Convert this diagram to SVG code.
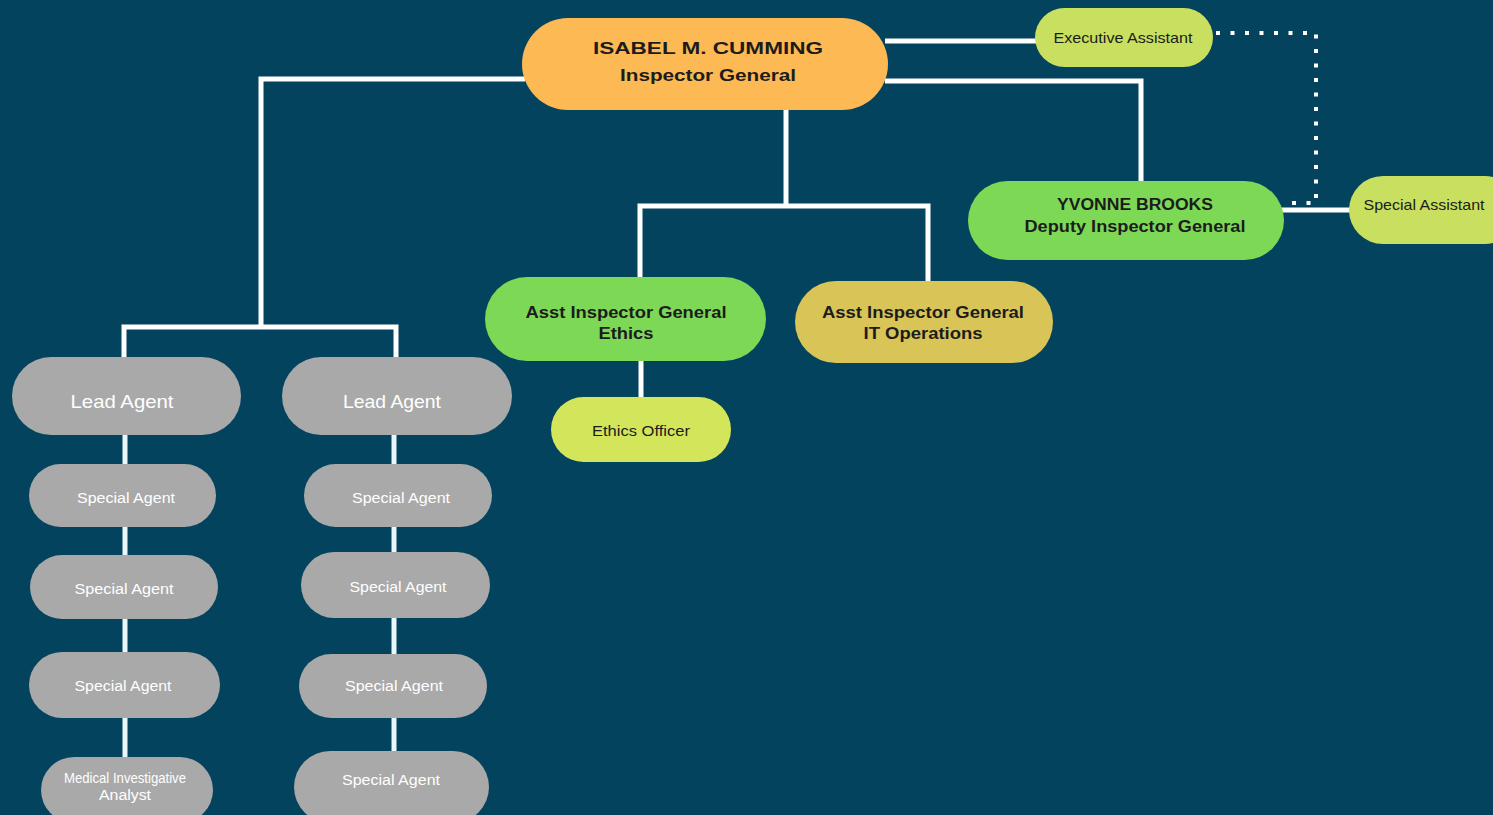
<svg xmlns="http://www.w3.org/2000/svg" width="1493" height="815" viewBox="0 0 1493 815">
<style>
.bg{fill:#04435e}
.ln{fill:none;stroke:#ffffff;stroke-width:5;stroke-linejoin:miter}
.ln2{fill:none;stroke:#e9f7fb;stroke-width:5}
.dot{fill:none;stroke:#ffffff;stroke-width:4;stroke-dasharray:4 10.5}
.orange{fill:#fdb953}
.green{fill:#7dd856}
.lime{fill:#c8df5f}
.yel{fill:#d3e55b}
.olive{fill:#d8c457}
.gray{fill:#a9a9a9}
.hb{font-family:"Liberation Sans",Arial,sans-serif;font-weight:bold;fill:#1c1c1c;text-anchor:middle;font-size:16px}
.hn{font-family:"Liberation Sans",Arial,sans-serif;fill:#1c1c1c;text-anchor:middle;font-size:15px}
.wt{font-family:"Liberation Sans",Arial,sans-serif;fill:#ffffff;text-anchor:middle;font-size:14px}
.wl{font-family:"Liberation Sans",Arial,sans-serif;fill:#ffffff;text-anchor:middle;font-size:19px}
</style>
<rect class="bg" x="0" y="0" width="1493" height="815"/>
<g id="connectors">
<path class="ln" d="M885 41 H1038"/>
<path class="ln" d="M885 81 H1141 V184"/>
<path class="ln" d="M1281 210 H1352"/>
<path class="dot" d="M1216 33 H1316 V203 H1284"/>
<path class="ln" d="M786 107 V206"/>
<path class="ln" d="M640 280 V206 H928 V283"/>
<path class="ln" d="M641 358 V400"/>
<path class="ln" d="M525 79 H261 V327"/>
<path class="ln" d="M124 360 V327 H396 V360"/>
<path class="ln2" d="M125 432 V760"/>
<path class="ln2" d="M394 432 V754"/>
</g>
<g id="ig">
<rect class="orange" x="522" y="18" width="366" height="92" rx="46"/>
<text class="hb" x="708" y="54" font-size="17" textLength="230" lengthAdjust="spacingAndGlyphs">ISABEL M. CUMMING</text>
<text class="hb" x="708" y="81" textLength="176" lengthAdjust="spacingAndGlyphs">Inspector General</text>
</g>
<g id="exec-assistant">
<rect class="lime" x="1035" y="8" width="178" height="59" rx="29.5"/>
<text class="hn" x="1123" y="43" textLength="139" lengthAdjust="spacingAndGlyphs">Executive Assistant</text>
</g>
<g id="deputy">
<rect class="green" x="968" y="181" width="316" height="79" rx="39.5"/>
<text class="hb" x="1135" y="210" font-size="15" textLength="156" lengthAdjust="spacingAndGlyphs">YVONNE BROOKS</text>
<text class="hb" x="1135" y="232" font-size="15" textLength="221" lengthAdjust="spacingAndGlyphs">Deputy Inspector General</text>
</g>
<g id="special-assistant">
<rect class="lime" x="1349" y="176" width="170" height="68" rx="34"/>
<text class="hn" x="1424" y="210" textLength="121" lengthAdjust="spacingAndGlyphs">Special Assistant</text>
</g>
<g id="aig-ethics">
<rect class="green" x="485" y="277" width="281" height="84" rx="42"/>
<text class="hb" x="626" y="318" font-size="15" textLength="201" lengthAdjust="spacingAndGlyphs">Asst Inspector General</text>
<text class="hb" x="626" y="339" font-size="15" textLength="55" lengthAdjust="spacingAndGlyphs">Ethics</text>
</g>
<g id="aig-it">
<rect class="olive" x="795" y="281" width="258" height="82" rx="41"/>
<text class="hb" x="923" y="318" font-size="15" textLength="202" lengthAdjust="spacingAndGlyphs">Asst Inspector General</text>
<text class="hb" x="923" y="339" font-size="15" textLength="119" lengthAdjust="spacingAndGlyphs">IT Operations</text>
</g>
<g id="ethics-officer">
<rect class="yel" x="551" y="397" width="180" height="65" rx="32.5"/>
<text class="hn" x="641" y="436" textLength="98" lengthAdjust="spacingAndGlyphs">Ethics Officer</text>
</g>
<g id="lead-agent-1">
<rect class="gray" x="12" y="357" width="229" height="78" rx="39"/>
<text class="wl" x="122" y="408" textLength="103" lengthAdjust="spacingAndGlyphs">Lead Agent</text>
</g>
<g id="lead-agent-2">
<rect class="gray" x="282" y="357" width="230" height="78" rx="39"/>
<text class="wl" x="392" y="408" textLength="98" lengthAdjust="spacingAndGlyphs">Lead Agent</text>
</g>
<g id="sa-1-1">
<rect class="gray" x="29" y="464" width="187" height="63" rx="31.5"/>
<text class="wt" x="126" y="503" textLength="98" lengthAdjust="spacingAndGlyphs">Special Agent</text>
</g>
<g id="sa-1-2">
<rect class="gray" x="30" y="555" width="188" height="64" rx="32"/>
<text class="wt" x="124" y="594" textLength="99" lengthAdjust="spacingAndGlyphs">Special Agent</text>
</g>
<g id="sa-1-3">
<rect class="gray" x="29" y="652" width="191" height="66" rx="33"/>
<text class="wt" x="123" y="691" textLength="97" lengthAdjust="spacingAndGlyphs">Special Agent</text>
</g>
<g id="medical">
<rect class="gray" x="41" y="757" width="172" height="66" rx="33"/>
<text class="wt" x="125" y="783" font-size="12" textLength="122" lengthAdjust="spacingAndGlyphs">Medical Investigative</text>
<text class="wt" x="125" y="800" font-size="12" textLength="52" lengthAdjust="spacingAndGlyphs">Analyst</text>
</g>
<g id="sa-2-1">
<rect class="gray" x="304" y="464" width="188" height="63" rx="31.5"/>
<text class="wt" x="401" y="503" textLength="98" lengthAdjust="spacingAndGlyphs">Special Agent</text>
</g>
<g id="sa-2-2">
<rect class="gray" x="301" y="552" width="189" height="66" rx="33"/>
<text class="wt" x="398" y="592" textLength="97" lengthAdjust="spacingAndGlyphs">Special Agent</text>
</g>
<g id="sa-2-3">
<rect class="gray" x="299" y="654" width="188" height="64" rx="32"/>
<text class="wt" x="394" y="691" textLength="98" lengthAdjust="spacingAndGlyphs">Special Agent</text>
</g>
<g id="sa-2-4">
<rect class="gray" x="294" y="751" width="195" height="72" rx="36"/>
<text class="wt" x="391" y="785" textLength="98" lengthAdjust="spacingAndGlyphs">Special Agent</text>
</g>
</svg>
